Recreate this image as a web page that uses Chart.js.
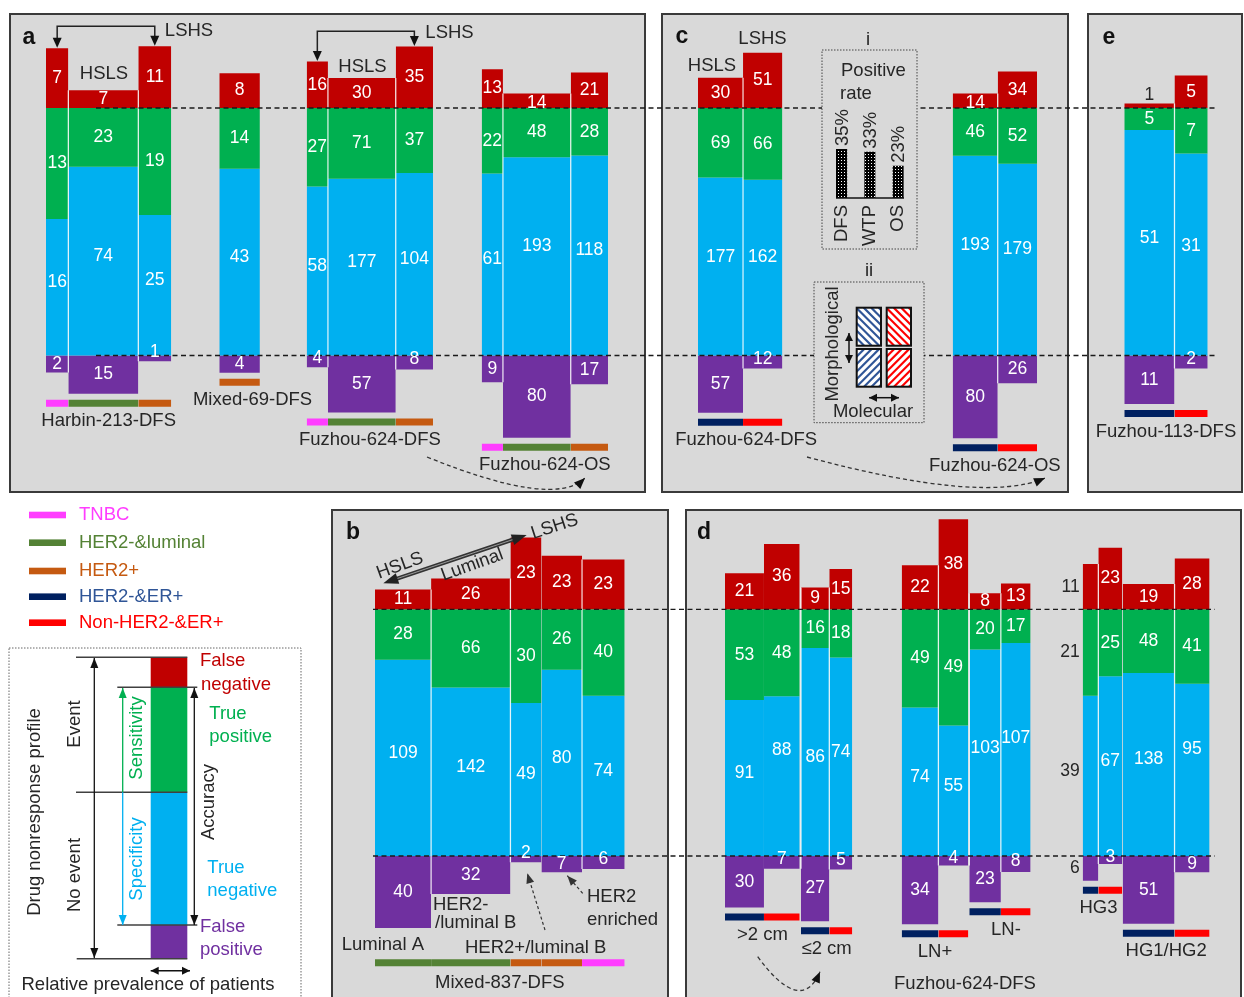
<!DOCTYPE html>
<html><head><meta charset="utf-8">
<script src="https://cdn.jsdelivr.net/npm/chart.js@4.4.0/dist/chart.umd.min.js"></script>
<style>html,body{margin:0;padding:0;background:#fff;}canvas{display:block;}</style>
</head><body>
<canvas id="c" width="1244" height="997"></canvas>
<script>
// ===== DATA: each bar = [false negative, true positive, true negative, false positive]
const segmentNames = ['False negative','True positive','True negative','False positive'];
const harbin213DFS = [[7,13,16,2],[7,23,74,15],[11,19,25,1]];
const harbin213Types = ['TNBC','HER2-&luminal','HER2+'];
const mixed69DFS = [[8,14,43,4]];
const mixed69Types = ['HER2+'];
const fuzhou624DFSsub = [[16,27,58,4],[30,71,177,57],[35,37,104,8]];
const fuzhou624OSsub = [[13,22,61,9],[14,48,193,80],[21,28,118,17]];
const subtypeTypes = ['TNBC','HER2-&luminal','HER2+'];
const fuzhou624DFSer = [[30,69,177,57],[51,66,162,12]];
const fuzhou624OSer = [[14,46,193,80],[34,52,179,26]];
const fuzhou113DFS = [[1,5,51,11],[5,7,31,2]];
const erTypes = ['HER2-&ER+','Non-HER2-&ER+'];
const mixed837DFS = [[11,28,109,40],[26,66,142,32],[23,30,49,2],[23,26,80,7],[23,40,74,6]];
const mixed837Classes = ['Luminal A','HER2-/luminal B','HER2+/luminal B','HER2 enriched','TNBC'];
const mixed837Types = ['HER2-&luminal','HER2-&luminal','HER2+','HER2+','TNBC'];
const sizeGt2 = [[21,53,91,30],[36,48,88,7]];
const sizeLe2 = [[9,16,86,27],[15,18,74,5]];
const lnPos = [[22,49,74,34],[38,49,55,4]];
const lnNeg = [[8,20,103,23],[13,17,107,8]];
const gradeHG3 = [[11,21,39,6],[23,25,67,3]];
const gradeHG12 = [[19,48,138,51],[28,41,95,9]];
const positiveRateCats = ['DFS','WTP','OS'];
const positiveRates = [35,33,23];
const legendTypes = ['TNBC','HER2-&luminal','HER2+','HER2-&ER+','Non-HER2-&ER+'];

// ===== STYLE / LAYOUT
const FONT = "'Liberation Sans', Arial, sans-serif";
const segColors = ['#c00000','#00b050','#00b0f0','#7030a0'];
const typeColors = {'TNBC':'#ff3dff','HER2-&luminal':'#548235','HER2+':'#c55a11','HER2-&ER+':'#002060','Non-HER2-&ER+':'#ff0000'};
const typeTextColors = {'TNBC':'#ff3dff','HER2-&luminal':'#548235','HER2+':'#c55a11','HER2-&ER+':'#2f5597','Non-HER2-&ER+':'#ff0000'};
const DARK = '#262626';
const ROWS = [{top:108, bottom:355.5, x0:96, x1:1218},{top:609.3, bottom:856, x0:373, x1:1215}];
const GROUPS = [
 {id:'harbin', bars:harbin213DFS, types:harbin213Types, label:'Harbin-213-DFS', row:0, x0:46, ppp:0.588, sep:[0,1,1]},
 {id:'mixed69', bars:mixed69DFS, types:mixed69Types, label:'Mixed-69-DFS', row:0, x0:219.3, ppp:0.588, sep:[0], labelDx:13},
 {id:'fzDFSa', bars:fuzhou624DFSsub, types:subtypeTypes, label:'Fuzhou-624-DFS', row:0, x0:306.7, ppp:0.2024, sep:[0,1,1]},
 {id:'fzOSa', bars:fuzhou624OSsub, types:subtypeTypes, label:'Fuzhou-624-OS', row:0, x0:481.7, ppp:0.2024, sep:[0,1,1]},
 {id:'fzDFSc', bars:fuzhou624DFSer, types:erTypes, label:'Fuzhou-624-DFS', row:0, x0:698, ppp:0.1352, sep:[0,1], labelDx:6},
 {id:'fzOSc', bars:fuzhou624OSer, types:erTypes, label:'Fuzhou-624-OS', row:0, x0:952.7, ppp:0.1352, sep:[0,1]},
 {id:'fz113', bars:fuzhou113DFS, types:erTypes, label:'Fuzhou-113-DFS', row:0, x0:1124.3, ppp:0.738, sep:[0,1]},
 {id:'mixed837', bars:mixed837DFS, types:mixed837Types, label:'Mixed-837-DFS', row:1, x0:375, ppp:0.2983, sep:[0,1,1,0,1], underlineY:959.3, labelY:983.3},
 {id:'gt2', bars:sizeGt2, types:erTypes, label:'>2 cm', row:1, x0:725, ppp:0.1997, sep:[0,0]},
 {id:'le2', bars:sizeLe2, types:erTypes, label:'\u22642 cm', row:1, x0:801, ppp:0.205, sep:[1,1]},
 {id:'lnp', bars:lnPos, types:erTypes, label:'LN+', row:1, x0:901.7, ppp:0.205, sep:[0,1]},
 {id:'lnn', bars:lnNeg, types:erTypes, label:'LN-', row:1, x0:969.3, ppp:0.205, sep:[1,1], labelDx:6},
 {id:'hg3', bars:gradeHG3, types:erTypes, label:'HG3', row:1, x0:1082.7, ppp:0.203, sep:[0,1], labelDx:-4, outsideFirst:true},
 {id:'hg12', bars:gradeHG12, types:erTypes, label:'HG1/HG2', row:1, x0:1122.7, ppp:0.2025, sep:[0,1]}
];
const labelNudge = {'gt2:1:2':-21,'hg12:1:2':-16,'lnn:1:2':-6,'le2:0:2':10,'fzOSa:1:2':-5,'fzOSc:0:2':-5,'fzOSc:1:2':-5,'fzDFSc:0:2':-4,'fzDFSc:1:2':-5,'fz113:1:2':-3};
const INSETS = [{x:822,y:50,w:95,h:199},{x:814,y:282,w:110,h:140.7}];
const MINI = {base:198, k:1.4, x0:841.7, step:28.2, w:11.4};

// ===== GEOMETRY (value space, derived from the data)
GROUPS.forEach(g=>{
  const r = ROWS[g.row], H = r.bottom - r.top;
  let x = g.x0; g.geo = [];
  g.bars.forEach(b=>{
    const n = b[0]+b[1]+b[2]+b[3], w = n*g.ppp, u = H/(b[1]+b[2]);
    const yTop = r.top - b[0]*u, yTP = r.top + b[1]*u, yBot = r.bottom + b[3]*u;
    g.geo.push({x0:x, x1:x+w, top:yTop, bottom:yBot, vals:b,
      segs:[[yTop,r.top],[r.top,yTP],[yTP,r.bottom],[r.bottom,yBot]]});
    x += w;
  });
  const maxBot = Math.max(...g.geo.map(q=>q.bottom));
  g.uy = g.underlineY || (maxBot + 6);
  g.ly = g.labelY || (g.uy + 21.5);
  g.lx = (g.geo[0].x0 + g.geo[g.geo.length-1].x1)/2 + (g.labelDx||0);
});

// ===== DATASETS
const datasets = [];
function rect(x0,x1,y0,y1,color,order){
  datasets.push({data:[{x:x0,y:y0},{x:x1,y:y0}], fill:{value:y1}, backgroundColor:color,
    borderColor:'rgba(0,0,0,0)', borderWidth:0, pointRadius:0, pointHoverRadius:0, order:order===undefined?10:order});
}
function vline(x,y0,y1,color,w,order){
  datasets.push({data:[{x:x,y:y0},{x:x,y:y1}], fill:false, borderColor:color, borderWidth:w, pointRadius:0, pointHoverRadius:0, order:order});
}
GROUPS.forEach((g,gi)=>{
  g.geo.forEach((bar,i)=>{
    bar.segs.forEach((s,si)=>{ if (s[1]-s[0]>0.01) rect(bar.x0,bar.x1,s[0],s[1],segColors[si],10); });
    rect(bar.x0,bar.x1,g.uy,g.uy+7,typeColors[g.types[i]],10);
  });
});
GROUPS.forEach((g,gi)=>{
  g.geo.forEach((bar,i)=>{
    if (!g.sep[i]) return;
    const prev = i>0 ? g.geo[i-1] : GROUPS[gi-1].geo[GROUPS[gi-1].geo.length-1];
    vline(bar.x0, Math.max(prev.top,bar.top), Math.min(prev.bottom,bar.bottom), 'rgba(255,255,255,0.8)', 1.3, 5);
  });
});
// mini bar chart (positive rate) with a dotted pattern
const pc = document.createElement('canvas'); pc.width=3; pc.height=3;
const pctx = pc.getContext('2d'); pctx.fillStyle='#000'; pctx.fillRect(0,0,3,3); pctx.fillStyle='#fff'; pctx.fillRect(1,1,1,1);
const dotPattern = document.getElementById('c').getContext('2d').createPattern(pc,'repeat');
positiveRates.forEach((v,i)=>{
  const cx = MINI.x0 + i*MINI.step;
  rect(cx-MINI.w/2, cx+MINI.w/2, MINI.base - v*MINI.k, MINI.base, dotPattern, 10);
});

// ===== DRAW HELPERS
function txt(ctx,s,x,y,o){
  o=o||{}; ctx.save();
  ctx.font=(o.bold?'bold ':'')+(o.size||18.5)+'px '+FONT;
  ctx.fillStyle=o.color||DARK; ctx.textAlign=o.align||'center'; ctx.textBaseline=o.baseline||'middle';
  ctx.translate(x,y); if(o.rot) ctx.rotate(o.rot*Math.PI/180);
  ctx.fillText(s,0,0); ctx.restore();
}
function head(ctx,tx,ty,ang,len,wid,color){
  ctx.save(); ctx.fillStyle=color; ctx.translate(tx,ty); ctx.rotate(ang);
  ctx.beginPath(); ctx.moveTo(0,0); ctx.lineTo(-len,-wid/2); ctx.lineTo(-len,wid/2); ctx.closePath(); ctx.fill(); ctx.restore();
}
function poly(ctx,pts,color,w,dash){
  ctx.save(); ctx.strokeStyle=color; ctx.lineWidth=w; ctx.setLineDash(dash||[]);
  ctx.beginPath(); ctx.moveTo(pts[0][0],pts[0][1]); for(let i=1;i<pts.length;i++) ctx.lineTo(pts[i][0],pts[i][1]);
  ctx.stroke(); ctx.restore();
}
function arrow(ctx,x0,y0,x1,y1,color,w,both,len,wid,dash){
  len=len||10; wid=wid||8;
  const a=Math.atan2(y1-y0,x1-x0);
  poly(ctx,[[x0,y0],[x1,y1]],color,w,dash);
  head(ctx,x1,y1,a,len,wid,color);
  if(both) head(ctx,x0,y0,a+Math.PI,len,wid,color);
}
function curveArrow(ctx,p0,c,p1){
  ctx.save(); ctx.strokeStyle='#333'; ctx.lineWidth=1.3; ctx.setLineDash([4,3]);
  ctx.beginPath(); ctx.moveTo(p0[0],p0[1]); ctx.quadraticCurveTo(c[0],c[1],p1[0],p1[1]); ctx.stroke(); ctx.restore();
  head(ctx,p1[0],p1[1],Math.atan2(p1[1]-c[1],p1[0]-c[0]),11,9,'#111');
}
function hatch(ctx,x,y,w,h,color,dir){
  ctx.save(); ctx.fillStyle='#fff'; ctx.fillRect(x,y,w,h);
  ctx.beginPath(); ctx.rect(x,y,w,h); ctx.clip();
  ctx.strokeStyle=color; ctx.lineWidth=2.2;
  for(let k=-h;k<w+h;k+=7.5){
    ctx.beginPath();
    if(dir>0){ctx.moveTo(x+k,y+h);ctx.lineTo(x+k+h,y);} else {ctx.moveTo(x+k,y);ctx.lineTo(x+k+h,y+h);}
    ctx.stroke();
  }
  ctx.restore();
  ctx.save(); ctx.strokeStyle='#111'; ctx.lineWidth=2; ctx.strokeRect(x,y,w,h); ctx.restore();
}

// ===== PLUGINS
const bgPlugin = {id:'bg', beforeDraw(chart){
  const ctx=chart.ctx; ctx.save();
  ctx.fillStyle='#fff'; ctx.fillRect(0,0,chart.width,chart.height);
  const panels=[[10,14,635,478],[662,14,406,478],[1088,14,154,478],[332,510,336,500],[686,510,555,500]];
  panels.forEach(p=>{ctx.fillStyle='#d9d9d9'; ctx.fillRect(p[0],p[1],p[2],p[3]); ctx.strokeStyle='#3a3a3a'; ctx.lineWidth=2; ctx.strokeRect(p[0],p[1],p[2],p[3]);});
  ctx.setLineDash([1.5,1.5]); ctx.lineWidth=1; ctx.strokeStyle='#444';
  INSETS.forEach(b=>ctx.strokeRect(b.x,b.y,b.w,b.h));
  ctx.strokeStyle='#666'; ctx.strokeRect(9,648,292,360);
  ctx.restore();
}};

const fgPlugin = {id:'fg', afterDatasetsDraw(chart){
  const ctx=chart.ctx, xs=chart.scales.x, ys=chart.scales.y;
  const X=v=>xs.getPixelForValue(v), Y=v=>ys.getPixelForValue(v);
  // dashed reference lines (not through the insets)
  ctx.save(); ctx.beginPath(); ctx.rect(0,0,chart.width,chart.height);
  INSETS.forEach(b=>ctx.rect(b.x,b.y,b.w,b.h)); ctx.clip('evenodd');
  ROWS.forEach(r=>{[r.top,r.bottom].forEach(y=>poly(ctx,[[X(r.x0),Y(y)],[X(r.x1),Y(y)]],'#1a1a1a',1.3,[5,3.5]));});
  ctx.restore();
  // bar value labels
  GROUPS.forEach(g=>{
    g.geo.forEach((bar,i)=>{
      bar.vals.forEach((v,s)=>{
        const ya=Y(bar.segs[s][0]), yb=Y(bar.segs[s][1]), h=yb-ya;
        let cx=(X(bar.x0)+X(bar.x1))/2, cy=(ya+yb)/2, color='#fff', align='center';
        if(s===0){ if(h<6){cy=ya-8;color=DARK;} else if(h<16) cy=yb-h/2+2; }
        if(s===2) cy-=5;
        if(s===3){ if(h<7) cy=ya-3; else if(h<16) cy=ya+h/2-3; }
        cy+=labelNudge[g.id+':'+i+':'+s]||0;
        if(g.outsideFirst && i===0){ cx=X(bar.x0)-3; align='right'; color=DARK; }
        txt(ctx,String(v),cx,cy,{size:17.5,color,align});
      });
    });
    txt(ctx,g.label,X(g.lx),Y(g.ly),{});
  });
  // panel letters
  [['a',29,43.5],['c',682,42.5],['e',1109,44],['b',353,539],['d',704,538.5]].forEach(p=>txt(ctx,p[0],p[1],p[2],{bold:true,size:23,color:'#111',baseline:'alphabetic'}));
  // HSLS / LSHS brackets in panel a
  [['harbin',26.3],['fzDFSa',31.3]].forEach(([id,by])=>{
    const g=GROUPS.find(q=>q.id===id), b1=g.geo[0], b3=g.geo[2];
    const xa=X((b1.x0+b1.x1)/2), xb=X((b3.x0+b3.x1)/2);
    poly(ctx,[[xa,Y(b1.top)-9],[xa,by],[xb,by],[xb,Y(b3.top)-9]],'#222',1.5);
    head(ctx,xa,Y(b1.top)-0.5,Math.PI/2,10,9,'#111');
    head(ctx,xb,Y(b3.top)-0.5,Math.PI/2,10,9,'#111');
  });
  txt(ctx,'LSHS',189,31); txt(ctx,'HSLS',104,74);
  txt(ctx,'LSHS',449.5,33); txt(ctx,'HSLS',362.5,66.5);
  txt(ctx,'HSLS',712,66); txt(ctx,'LSHS',762.5,39);
  // curved dashed arrows
  curveArrow(ctx,[427,457],[554,508.5],[585,478]);
  curveArrow(ctx,[807,457],[984,504.6],[1045,478]);
  curveArrow(ctx,[757.7,956.7],[801.2,1015.8],[820,971.7]);
  // inset i: positive rate
  txt(ctx,'i',868,40); txt(ctx,'Positive',841,71,{align:'left'}); txt(ctx,'rate',840,94,{align:'left'});
  poly(ctx,[[836,Y(MINI.base)],[904,Y(MINI.base)]],'#111',1.5);
  positiveRates.forEach((v,i)=>{
    const cx=X(MINI.x0+i*MINI.step);
    txt(ctx,v+'%',cx+1,Y(MINI.base-v*MINI.k)-3,{rot:-90,align:'left'});
    txt(ctx,positiveRateCats[i],cx,Y(MINI.base)+7,{rot:-90,align:'right'});
  });
  // inset ii
  txt(ctx,'ii',869,271);
  hatch(ctx,856.7,307.7,24.3,38,'#2f5597',-1); hatch(ctx,886.7,307.7,24.3,38,'#ff0000',-1);
  hatch(ctx,856.7,349,24.3,37.7,'#2f5597',1); hatch(ctx,886.7,349,24.3,37.7,'#ff0000',1);
  arrow(ctx,849,333,849,363,'#111',1.5,true,8,8);
  arrow(ctx,869,397.7,899,397.7,'#111',1.5,true,8,8);
  txt(ctx,'Morphological',833,344,{rot:-90});
  txt(ctx,'Molecular',873,412);
  // panel b annotations
  ctx.save(); ctx.lineCap='butt';
  poly(ctx,[[392,580.3],[517.5,538]],'#333',4); poly(ctx,[[392,580.3],[517.5,538]],'#9a9a9a',1);
  ctx.restore();
  head(ctx,526.7,535,Math.atan2(535-583.3,526.7-383.3),15,11,'#222');
  head(ctx,383.3,583.3,Math.atan2(583.3-535,383.3-526.7),15,11,'#222');
  txt(ctx,'HSLS',400,565.7,{rot:-20}); txt(ctx,'Luminal',472.3,565,{rot:-20}); txt(ctx,'LSHS',554.7,526.7,{rot:-18});
  arrow(ctx,545,930,527.3,873.3,'#333',1.2,false,10,8,[3,2.5]);
  arrow(ctx,582.7,893.3,567.3,875.7,'#333',1.2,false,10,8,[3,2.5]);
  txt(ctx,'Luminal A',341.7,945,{align:'left'});
  txt(ctx,'HER2-',433,905,{align:'left'}); txt(ctx,'/luminal B',435,923.3,{align:'left'});
  txt(ctx,'HER2+/luminal B',465,948.3,{align:'left'});
  txt(ctx,'HER2',587,896.7,{align:'left'}); txt(ctx,'enriched',587,920,{align:'left'});
  txt(ctx,'Fuzhou-624-DFS',965,983.5);
  // subtype legend
  const ly=[515,542.7,571,596.7,622.7];
  legendTypes.forEach((t,i)=>{
    ctx.save(); ctx.fillStyle=typeColors[t]; ctx.fillRect(29,ly[i]-3.3,37,6.6); ctx.restore();
    txt(ctx,t,79,ly[i],{align:'left',color:typeTextColors[t]});
  });
  // schematic key
  const kx0=150.7,kx1=187.3;
  [[657.3,687.3],[687.3,792.3],[792.3,925],[925,958.7]].forEach((s,i)=>{ctx.save();ctx.fillStyle=segColors[i];ctx.fillRect(kx0,s[0],kx1-kx0,s[1]-s[0]);ctx.restore();});
  [[657.3,76,187.3],[687.3,117.3,197.3],[792.3,76,187.3],[925,117.3,197.3],[958.7,76.7,187.3]].forEach(l=>poly(ctx,[[l[1],l[0]],[l[2],l[0]]],'#404040',1.5));
  arrow(ctx,94.3,958,94.3,658,'#111',1.3,true,10,8);
  arrow(ctx,122.7,792.3,122.7,688,'#00b050',1.3,false,10,8);
  arrow(ctx,122.7,792.3,122.7,925,'#00b0f0',1.3,false,10,8);
  arrow(ctx,194.3,925,194.3,688,'#111',1.3,true,10,8);
  arrow(ctx,150.7,970.7,190,970.7,'#111',1.5,true,8,8);
  txt(ctx,'Drug nonresponse profile',35,812,{rot:-90});
  txt(ctx,'Event',75,724,{rot:-90}); txt(ctx,'No event',75,875,{rot:-90});
  txt(ctx,'Sensitivity',136.7,738,{rot:-90,color:'#00b050'});
  txt(ctx,'Specificity',136.7,859,{rot:-90,color:'#00b0f0'});
  txt(ctx,'Accuracy',209.3,802,{rot:-90});
  txt(ctx,'False',200,661,{align:'left',color:'#c00000'}); txt(ctx,'negative',201,685,{align:'left',color:'#c00000'});
  txt(ctx,'True',209.3,714,{align:'left',color:'#00b050'}); txt(ctx,'positive',209.3,737,{align:'left',color:'#00b050'});
  txt(ctx,'True',207.3,868,{align:'left',color:'#00b0f0'}); txt(ctx,'negative',207.3,891,{align:'left',color:'#00b0f0'});
  txt(ctx,'False',200,926.7,{align:'left',color:'#7030a0'}); txt(ctx,'positive',200,950,{align:'left',color:'#7030a0'});
  txt(ctx,'Relative prevalence of patients',148,985);
}};

new Chart(document.getElementById('c'),{
  type:'line',
  data:{datasets},
  options:{
    responsive:false, animation:false, devicePixelRatio:1, events:[],
    layout:{padding:0},
    plugins:{legend:{display:false}, tooltip:{enabled:false}},
    elements:{line:{tension:0}, point:{radius:0}},
    scales:{
      x:{type:'linear', min:0, max:1244, display:false},
      y:{type:'linear', min:0, max:997, reverse:true, display:false}
    }
  },
  plugins:[bgPlugin, fgPlugin]
});
</script>
</body></html>
